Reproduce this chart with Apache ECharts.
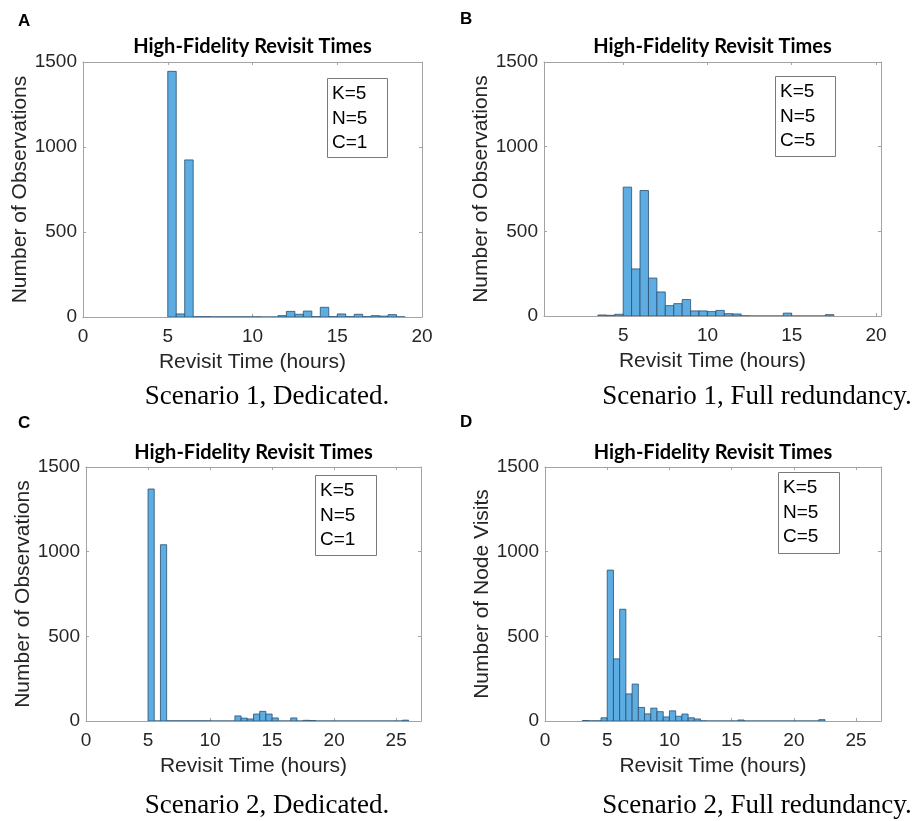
<!DOCTYPE html>
<html>
<head>
<meta charset="utf-8">
<script src="https://cdn.jsdelivr.net/npm/echarts@6/dist/echarts.min.js"></script>
<style>html,body{margin:0;padding:0;background:#fff}#chart{width:919px;height:821px}</style>
</head>
<body>
<div id="chart"></div>
<script>
// ---- data ----
const binWidth = 0.5;
const panelLetters = ['A', 'B', 'C', 'D'];
const panelTitle = 'High-Fidelity Revisit Times';
const captions = ['Scenario 1, Dedicated.', 'Scenario 1, Full redundancy.', 'Scenario 2, Dedicated.', 'Scenario 2, Full redundancy.'];
const yNames = ['Number of Observations', 'Number of Observations', 'Number of Observations', 'Number of Node Visits'];
const xName = 'Revisit Time (hours)';
const legendLines = [['K=5', 'N=5', 'C=1'], ['K=5', 'N=5', 'C=5'], ['K=5', 'N=5', 'C=1'], ['K=5', 'N=5', 'C=5']];

// first bin lower edge (hours) for each panel
const binStartA = 5.0;
const binStartB = 3.5;
const binStartC = 5.0;
const binStartD = 3.0;
// counts per 0.5-hour bin
const countsA = [1445, 18, 924, 2, 2, 1, 1, 1, 1, 1, 1, 0, 0, 8, 33, 16, 35, 2, 57, 2, 18, 2, 16, 2, 8, 5, 14, 1];
const countsB = [6, 4, 10, 761, 278, 741, 224, 142, 61, 73, 97, 30, 30, 26, 33, 14, 12, 1, 0, 0, 0, 0, 17, 0, 0, 0, 0, 8];
const countsC = [1370, 0, 1041, 1, 1, 1, 1, 1, 1, 1, 0, 0, 0, 0, 30, 17, 12, 41, 57, 41, 18, 0, 0, 18, 0, 4, 3, 0, 0, 0, 0, 0, 0, 0, 0, 0, 0, 0, 0, 0, 0, 5];
const countsD = [3, 1, 1, 19, 891, 367, 660, 160, 218, 80, 42, 76, 55, 24, 60, 28, 41, 19, 12, 1, 0, 0, 0, 0, 0, 6, 0, 0, 0, 0, 0, 0, 0, 0, 0, 0, 0, 0, 8];

// axis ranges / ticks
const xRanges = [[0, 20], [0.3, 20.3], [0, 27], [0, 27]];
const xTicks = [[0, 5, 10, 15, 20], [5, 10, 15, 20], [0, 5, 10, 15, 20, 25], [0, 5, 10, 15, 20, 25]];
const yRange = [0, 1500];
const yTicks = [0, 500, 1000, 1500];

// ---- layout ----
const grids = [
  {left: 83, top: 62, width: 339, height: 255},
  {left: 544, top: 62, width: 337, height: 254},
  {left: 86, top: 467, width: 335, height: 254},
  {left: 545, top: 467, width: 336, height: 254}
];
const letterPos = [[18, 21], [460, 19], [18, 423], [460, 422]];
const titlePos = [[252.5, 47], [712.5, 47], [253.5, 452.5], [713, 452.5]];
const captionPos = [[267, 397], [757, 397], [267, 806], [757, 806]];
const boxPos = [[327, 78, 60, 79], [775, 76, 60, 80], [315, 475, 61, 80], [778, 472, 61, 81]];

const binStarts = [binStartA, binStartB, binStartC, binStartD];
const countsAll = [countsA, countsB, countsC, countsD];

const axisColor = '#a3a3a3';
const labelColor = '#262626';
const barFill = '#5dade2';
const barEdge = '#2a4f6e';

const xAxes = [], yAxes = [], series = [], graphics = [];
grids.forEach((g, i) => {
  xAxes.push({
    type: 'value', gridIndex: i, position: 'bottom',
    min: xRanges[i][0], max: xRanges[i][1],
    name: xName, nameLocation: 'middle', nameGap: 35,
    nameTextStyle: {fontFamily: 'Liberation Sans', fontSize: 21, color: labelColor},
    axisLine: {show: true, onZero: false, lineStyle: {color: axisColor, width: 1}},
    axisTick: {show: true, inside: true, length: 3, customValues: xTicks[i], lineStyle: {color: axisColor}},
    axisLabel: {customValues: xTicks[i], formatter: v => String(v), fontFamily: 'Liberation Sans', fontSize: 19, color: labelColor, margin: 10},
    splitLine: {show: false}
  });
  xAxes.push({
    type: 'value', gridIndex: i, position: 'top',
    min: xRanges[i][0], max: xRanges[i][1],
    axisLine: {show: true, onZero: false, lineStyle: {color: axisColor, width: 1}},
    axisTick: {show: true, inside: true, length: 3, customValues: xTicks[i], lineStyle: {color: axisColor}},
    axisLabel: {show: false},
    splitLine: {show: false}
  });
  yAxes.push({
    type: 'value', gridIndex: i, position: 'left',
    min: yRange[0], max: yRange[1], interval: 500,
    name: yNames[i], nameLocation: 'middle', nameGap: 46,
    nameTextStyle: {fontFamily: 'Liberation Sans', fontSize: 21, color: labelColor},
    axisLine: {show: true, onZero: false, lineStyle: {color: axisColor, width: 1}},
    axisTick: {show: true, inside: true, length: 3, lineStyle: {color: axisColor}},
    axisLabel: {formatter: v => String(v), fontFamily: 'Liberation Sans', fontSize: 19, color: labelColor, margin: 6},
    splitLine: {show: false}
  });
  yAxes.push({
    type: 'value', gridIndex: i, position: 'right',
    min: yRange[0], max: yRange[1], interval: 500,
    axisLine: {show: true, onZero: false, lineStyle: {color: axisColor, width: 1}},
    axisTick: {show: true, inside: true, length: 3, lineStyle: {color: axisColor}},
    axisLabel: {show: false},
    splitLine: {show: false}
  });
  const data = countsAll[i].map((c, k) => [binStarts[i] + k * binWidth, binStarts[i] + (k + 1) * binWidth, c]);
  series.push({
    type: 'custom', xAxisIndex: 2 * i, yAxisIndex: 2 * i,
    encode: {x: [0, 1], y: 2},
    data: data, silent: true, clip: true,
    renderItem: function (params, api) {
      const p0 = api.coord([api.value(0), api.value(2)]);
      const p1 = api.coord([api.value(1), 0]);
      return {
        type: 'rect',
        shape: {x: p0[0], y: p0[1], width: p1[0] - p0[0], height: p1[1] - p0[1]},
        style: {fill: barFill, stroke: barEdge, lineWidth: 0.8}
      };
    }
  });
  // panel letter
  graphics.push({type: 'text', x: letterPos[i][0], y: letterPos[i][1],
    style: {text: panelLetters[i], font: 'bold 17px "Liberation Sans"', fill: '#000', align: 'left', verticalAlign: 'middle'}});
  // title
  graphics.push({type: 'text', x: titlePos[i][0], y: titlePos[i][1],
    style: {text: panelTitle, font: 'bold 20px Lato', fill: '#000', align: 'center', verticalAlign: 'middle'}});
  // caption
  graphics.push({type: 'text', x: captionPos[i][0], y: captionPos[i][1],
    style: {text: captions[i], font: '27px "Liberation Serif"', fill: '#000', align: 'center', verticalAlign: 'middle'}});
  // annotation box
  const b = boxPos[i];
  graphics.push({type: 'rect', shape: {x: b[0] + 0.5, y: b[1] + 0.5, width: b[2], height: b[3]},
    style: {fill: '#fff', stroke: '#7a7a7a', lineWidth: 1}});
  legendLines[i].forEach((t, k) => {
    graphics.push({type: 'text', x: b[0] + 5, y: b[1] + 16 + k * 24.5,
      style: {text: t, font: '19px "Liberation Sans"', fill: '#000', align: 'left', verticalAlign: 'middle'}});
  });
});

const chart = echarts.init(document.getElementById('chart'), null, {renderer: 'canvas'});
chart.setOption({
  animation: false,
  backgroundColor: '#fff',
  grid: grids.map(g => Object.assign({containLabel: false}, g)),
  xAxis: xAxes,
  yAxis: yAxes,
  series: series,
  graphic: graphics
});
</script>
</body>
</html>
